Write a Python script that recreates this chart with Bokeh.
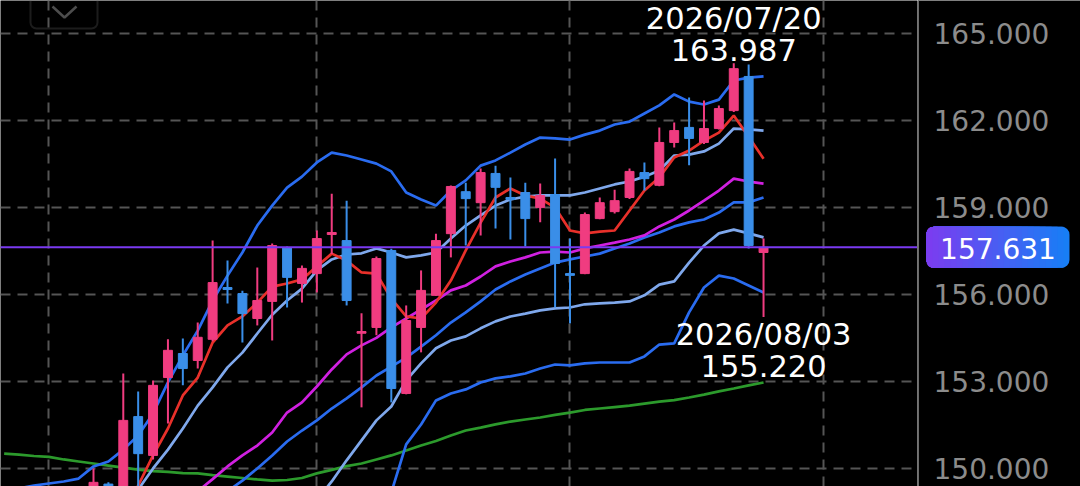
import numpy as np
import pandas as pd
from bokeh.plotting import figure
from bokeh.layouts import row
from bokeh.models import Range1d, FixedTicker, Span, BoxAnnotation, PolyAnnotation, ColumnDataSource
from bokeh.core.properties import value
from bokeh.embed import file_html
from bokeh.resources import INLINE

nan = float("nan")

# weekly bars (Monday dates); indicator lines start 6 weeks before the first bar on screen
first_week = "2025-08-11"
hidden_weeks = 6

opens = [148.90, 149.45, 148.90, 151.78, 150.44, 153.13, 153.96, 153.72, 154.45, 156.24,
         156.03, 155.17, 155.76, 157.62, 156.38, 156.72, 158.07, 157.86, 154.66, 154.86,
         157.52, 152.58, 154.86, 155.97, 158.10, 159.55, 159.17, 160.18, 159.35, 159.52,
         159.00, 159.45, 156.72, 156.72, 158.62, 158.86, 159.35, 160.21, 159.77, 161.25,
         161.77, 161.25, 161.73, 162.35, 163.53, 157.45]
highs = [149.99, 149.51, 153.27, 152.65, 153.03, 154.45, 154.48, 155.03, 157.86, 157.17,
         156.13, 156.93, 157.76, 157.66, 157.00, 158.21, 159.48, 159.24, 155.35, 157.31,
         157.58, 155.62, 156.83, 158.10, 159.76, 159.86, 160.35, 160.45, 160.04, 159.86,
         159.83, 160.70, 157.93, 158.83, 159.35, 159.62, 160.35, 160.56, 161.77, 161.94,
         162.80, 162.70, 162.53, 163.987, 163.94, 157.93]
lows = [148.70, 148.60, 148.70, 148.80, 150.30, 151.54, 152.86, 153.44, 154.38, 155.69,
        154.34, 154.93, 154.41, 155.55, 155.72, 156.07, 157.40, 155.62, 152.10, 154.59,
        152.27, 152.55, 154.00, 155.95, 157.28, 157.69, 158.04, 158.28, 157.90, 157.66,
        158.49, 155.55, 155.00, 156.70, 158.60, 158.80, 159.30, 159.59, 159.74, 161.08,
        160.46, 161.20, 161.70, 162.30, 157.59, 155.220]
closes = [149.51, 148.80, 151.65, 150.50, 152.86, 154.07, 153.44, 154.52, 156.41, 156.17,
          155.34, 155.79, 157.69, 156.59, 156.90, 157.93, 158.14, 155.79, 154.72, 157.24,
          152.75, 155.10, 156.14, 157.86, 159.73, 159.31, 160.21, 159.70, 159.28, 158.62,
          159.42, 157.07, 156.66, 158.76, 159.17, 159.24, 160.25, 160.00, 161.25, 161.66,
          161.39, 161.73, 162.42, 163.80, 157.69, 157.631]

# indicator lines, one value per week from first_week (nan = not on screen)
ma_short = [nan] * 6 + [
    nan, nan, 148.40, 149.40, 150.44, 151.37, 152.51, 153.13, 154.34, 154.93,
    155.24, 155.72, 156.27, 156.38, 156.52, 156.97, 157.41, 157.17, 156.76, 156.72,
    155.86, 155.24, 155.17, 155.72, 156.48, 157.52, 158.48, 159.35, 159.66, 159.42,
    159.31, 159.00, 158.21, 158.11, 158.17, 158.21, 158.90, 159.59, 160.04, 160.73,
    160.97, 161.31, 161.59, 162.18, 161.45, 160.69]
band_mid = [nan] * 6 + [
    nan, nan, nan, nan, nan, nan, nan, 149.20, 149.62, 150.06,
    150.44, 150.78, 151.23, 151.92, 152.27, 152.82, 153.41, 153.93, 154.24, 154.50,
    154.86, 155.17, 155.48, 155.79, 156.14, 156.31, 156.62, 156.97, 157.14, 157.28,
    157.45, 157.48, 157.45, 157.59, 157.69, 157.79, 157.90, 158.04, 158.35, 158.59,
    158.90, 159.24, 159.59, 160.00, 159.90, 159.83]
band_up2 = [149.20, 149.30, 149.40, 149.47, 149.54, 149.64,
    150.06, 150.23, 150.64, 151.13, 151.89, 152.96, 153.89, 154.75, 155.79, 156.65,
    157.45, 158.38, 159.07, 159.69, 160.07, 160.56, 160.90, 160.80, 160.66, 160.52,
    160.25, 159.52, 159.28, 159.07, 159.59, 159.94, 160.45, 160.63, 160.90, 161.18,
    161.42, 161.39, 161.35, 161.52, 161.66, 161.87, 161.97, 162.25, 162.53, 162.91,
    162.66, 162.56, 162.73, 163.39, 163.49, 163.53]
band_up1 = [nan] * 6 + [
    nan, nan, 148.60, 149.26, 149.99, 150.64, 151.37, 152.16, 152.79, 153.48,
    153.99, 154.65, 155.30, 155.79, 156.20, 156.83, 157.21, 157.38, 157.42, 157.59,
    157.45, 157.28, 157.35, 157.45, 157.93, 158.38, 158.73, 159.07, 159.28, 159.38,
    159.42, 159.42, 159.42, 159.52, 159.66, 159.80, 159.90, 160.07, 160.28, 160.80,
    160.83, 160.94, 161.21, 161.73, 161.70, 161.66]
band_dn1 = [nan] * 6 + [nan] * 15 + [
    148.90, 149.54, 150.27, 150.96, 151.65,
    152.13, 153.03, 153.62, 154.14, 154.41, 154.55, 154.83, 155.07, 155.24, 155.34,
    155.45, 155.52, 155.55, 155.66, 155.69, 155.72, 155.76, 155.97, 156.34, 156.45,
    157.10, 157.69, 158.11, 158.24, 158.11, 157.97]
band_dn2 = [nan] * 6 + [nan] * 19 + [
    147.90,
    149.16, 150.82, 151.51, 152.34, 152.58, 152.72, 152.96, 153.10, 153.17, 153.27,
    153.44, 153.58, 153.55, 153.62, 153.65, 153.65, 153.65, 153.86, 154.27, 154.31,
    155.38, 156.24, 156.65, 156.55, 156.31, 156.07]
ma_blue = [nan] * 6 + [nan] * 9 + [
    149.20,
    149.57, 149.99, 150.44, 150.92, 151.30, 151.65, 152.06, 152.41, 152.79, 153.20,
    153.51, 153.82, 154.20, 154.59, 155.03, 155.38, 155.76, 156.17, 156.45, 156.69,
    156.90, 157.10, 157.21, 157.31, 157.41, 157.59, 157.76, 157.97, 158.14, 158.35,
    158.49, 158.59, 158.83, 159.18, 159.18, 159.35]
ma_long = [150.50, 150.47, 150.42, 150.39, 150.30, 150.23,
    150.16, 150.09, 150.02, 149.95, 149.90, 149.87, 149.83, 149.82, 149.76, 149.71,
    149.66, 149.61, 149.57, 149.59, 149.66, 149.82, 149.94, 150.07, 150.16, 150.30,
    150.44, 150.61, 150.78, 150.94, 151.13, 151.30, 151.40, 151.51, 151.61, 151.68,
    151.75, 151.84, 151.92, 152.01, 152.06, 152.11, 152.16, 152.23, 152.30, 152.35,
    152.44, 152.54, 152.65, 152.75, 152.86, 152.96]

current_price = 157.631
y_ticks = [150, 153, 156, 159, 162, 165]
grid_dates = ["2025-09-01", "2026-01-05", "2026-05-04", "2026-08-31"]

UP = "#f03c80"
DOWN = "#3a8ee8"
FONT = "DejaVu Sans"
GRID = "#555555"
LW = 2.7

week = pd.Timedelta(days=7)
line_dates = pd.date_range(first_week, periods=len(ma_long), freq="7D")
bar_dates = line_dates[hidden_weeks:]

y_range = Range1d(149.366, 166.154)

# ---- chart area ----
p = figure(width=917, height=486, output_backend="svg", toolbar_location=None,
           x_axis_type="datetime", x_axis_location=None, y_axis_location=None,
           x_range=Range1d(bar_dates[0] - 6.246 * week, bar_dates[0] + 55.34 * week),
           y_range=y_range, min_border=0)
p.background_fill_color = "black"
p.border_fill_color = "black"
p.outline_line_color = None

p.ygrid.ticker = FixedTicker(ticks=y_ticks)
p.xgrid.ticker = FixedTicker(ticks=[pd.Timestamp(d).value / 1e6 for d in grid_dates])
for g in (p.xgrid, p.ygrid):
    g.grid_line_color = GRID
    g.grid_line_width = 2
    g.grid_line_dash = "10 7"

p.line(line_dates, ma_long, line_color="#2c9a2c", line_width=LW)
p.line(line_dates, band_dn2, line_color="#2a6cf0", line_width=LW)
p.line(line_dates, band_up2, line_color="#2a6cf0", line_width=LW)
p.line(line_dates, band_dn1, line_color="#7fa8ec", line_width=LW)
p.line(line_dates, band_up1, line_color="#7fa8ec", line_width=LW)
p.line(line_dates, ma_blue, line_color="#2a6cf0", line_width=LW)
p.line(line_dates, band_mid, line_color="#d020e0", line_width=LW)
p.line(line_dates, ma_short, line_color="#e8302a", line_width=LW)

o = np.array(opens)
c = np.array(closes)
src = ColumnDataSource(dict(
    date=bar_dates, high=highs, low=lows,
    top=np.maximum(o, c), bottom=np.minimum(o, c),
    color=[UP if cc >= oo else DOWN for oo, cc in zip(opens, closes)],
))
p.segment(x0="date", y0="low", x1="date", y1="high", line_color="color", line_width=2, source=src)
p.vbar(x="date", width=0.6 * week, top="top", bottom="bottom", fill_color="color",
       line_color="color", line_width=1, source=src)

# high / low markers
i_hi = int(np.argmax(highs))
i_lo = i_hi + int(np.argmin(lows[i_hi:]))
p.text(x=[bar_dates[i_hi]], y=[highs[i_hi]],
       text=[f"{bar_dates[i_hi]:%Y/%m/%d}\n{highs[i_hi]:.3f}"],
       text_align="center", text_baseline="bottom", text_color="white",
       text_font=value(FONT), text_font_size="30.5px", text_line_height=0.92, y_offset=4.5)
p.text(x=[bar_dates[i_lo]], y=[lows[i_lo]],
       text=[f"{bar_dates[i_lo]:%Y/%m/%d}\n{lows[i_lo]:.3f}"],
       text_align="center", text_baseline="top", text_color="white",
       text_font=value(FONT), text_font_size="30.5px", text_line_height=0.92)

p.add_layout(Span(location=current_price, dimension="width", line_color="#7a3af0", line_width=2))

# collapse button in the corner
p.add_layout(BoxAnnotation(left=30, right=97, left_units="screen", right_units="screen",
                           bottom=165.187, top=167.0, fill_alpha=0, line_color="#5c5c5c",
                           line_width=2, border_radius=6))
p.add_layout(PolyAnnotation(xs=[52, 64, 76, 64], ys=[165.946, 165.566, 165.946, 165.566],
                            xs_units="screen", ys_units="data", fill_alpha=0,
                            line_color="white", line_width=2.5))

# ---- price scale ----
a = figure(width=163, height=486, output_backend="svg", toolbar_location=None,
           x_axis_location=None, y_axis_location=None, x_range=Range1d(0, 163),
           y_range=y_range, min_border=0)
a.background_fill_color = "black"
a.border_fill_color = "black"
a.outline_line_color = None
a.xgrid.visible = False
a.ygrid.visible = False
a.add_layout(Span(location=0.5, dimension="height", line_color="#6b6b6b", line_width=2))
a.text(x=16, y=y_ticks, text=[f"{t:.3f}" for t in y_ticks], text_align="left",
       text_baseline="middle", text_color="#8c8c8c", text_font=value(FONT),
       text_font_size="28px")

# gradient price tag
tag_l, tag_r, steps = 9, 152, 24
c0 = np.array([125, 60, 240])
c1 = np.array([22, 128, 246])
fr = (np.arange(steps)[::-1] + 1) / steps
cols = ["#%02x%02x%02x" % tuple((c0 + (c1 - c0) * (f - 0.5 / steps)).astype(int)) for f in fr]
a.quad(left=tag_l, right=tag_r, bottom=current_price - 0.708, top=current_price + 0.708,
       fill_color=cols[0], line_alpha=0, border_radius=8)
a.quad(left=tag_l, right=tag_l + (tag_r - tag_l) * fr[1:], bottom=current_price - 0.708,
       top=current_price + 0.708, fill_color=cols[1:], line_alpha=0, border_radius=(8, 0, 0, 8))
a.text(x=(tag_l + tag_r) / 2, y=current_price, text=[f"{current_price:.3f}"], text_align="center",
       text_baseline="middle", text_color="white", text_font=value(FONT),
       text_font_size="28px", y_offset=1)

open("out.html", "w").write(file_html(row(p, a, spacing=0), INLINE))
